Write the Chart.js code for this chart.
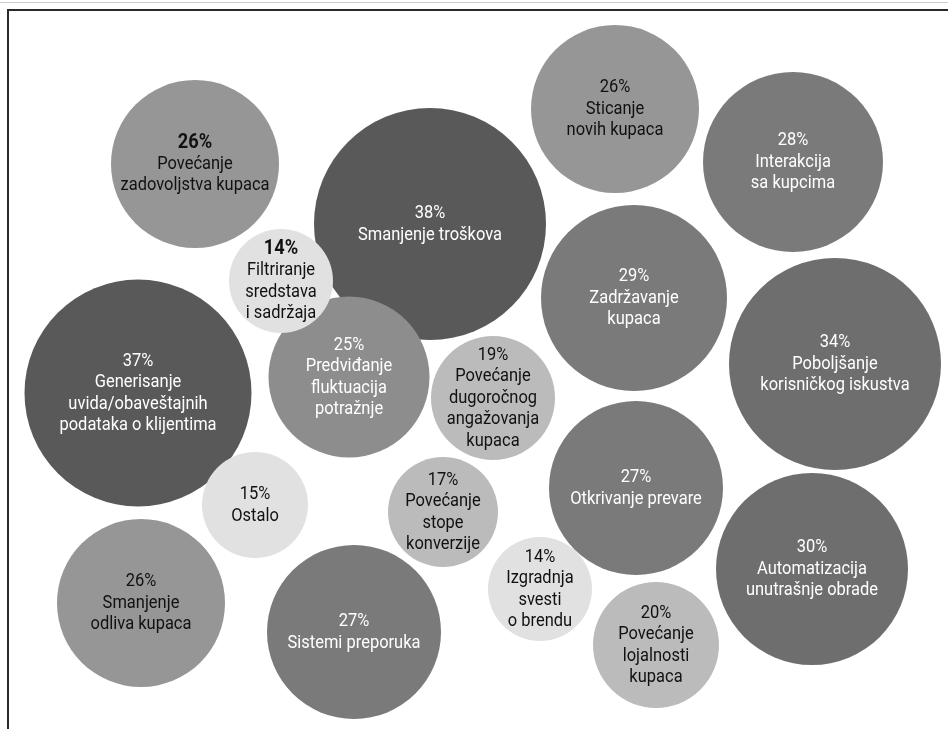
<!DOCTYPE html>
<html>
<head>
<meta charset="utf-8">
<script src="https://cdn.jsdelivr.net/npm/chart.js@4"></script>
<style>
  html, body { margin: 0; padding: 0; background: #fff; }
  #wrap { position: relative; width: 948px; height: 729px; }
</style>
</head>
<body>
<div id="wrap"><canvas id="bubbles" width="948" height="729"></canvas></div>
<script>
// podaci (redosled = redosled crtanja)
const categories = [
  'Povećanje\nzadovoljstva kupaca',
  'Smanjenje troškova',
  'Sticanje\nnovih kupaca',
  'Interakcija\nsa kupcima',
  'Zadržavanje\nkupaca',
  'Poboljšanje\nkorisničkog iskustva',
  'Generisanje\nuvida/obaveštajnih\npodataka o klijentima',
  'Predviđanje\nfluktuacija\npotražnje',
  'Povećanje\ndugoročnog\nangažovanja\nkupaca',
  'Povećanje\nstope\nkonverzije',
  'Ostalo',
  'Otkrivanje prevare',
  'Automatizacija\nunutrašnje obrade',
  'Izgradnja\nsvesti\no brendu',
  'Povećanje\nlojalnosti\nkupaca',
  'Smanjenje\nodliva kupaca',
  'Sistemi preporuka',
  'Filtriranje\nsredstava\ni sadržaja'
];
const percents = [26, 38, 26, 28, 29, 34, 37, 25, 19, 17, 15, 27, 30, 14, 20, 26, 27, 14];

// raspored krugova (jedinice skale)
const layoutX = [195, 430, 615, 793, 634, 835, 138, 349, 493, 443, 255, 636, 812, 540, 656, 141, 354, 281];
const layoutY = [164, 224, 109, 162, 298, 364, 393, 377, 398, 512, 505, 488, 569, 589, 645, 603, 632, 281];

// stil
const boldPercent = [true, false, false, false, false, false, false, false, false, false, false, false, false, false, false, false, false, true];
const whiteText = [false, true, false, true, true, true, true, true, false, false, false, true, true, false, false, false, true, false];
const FONT = 'Roboto, "DejaVu Sans", sans-serif';

function shade(v, i) {
  if (v >= 35) return '#595959';
  if (v >= 30) return '#6e6e6e';
  if (v >= 27) return '#7a7a7a';
  if (v >= 25) return whiteText[i] ? '#8d8d8d' : '#969696';
  if (v >= 17) return '#bbbbbb';
  return '#e1e1e1';
}

// poluprečnik iz vrednosti (po delovima linearno)
const rStops = [[14, 52], [17, 55], [19, 62], [20, 63], [26, 84], [30, 96], [38, 116]];
function radiusFor(v) {
  for (let k = 1; k < rStops.length; k++) {
    const [v0, r0] = rStops[k - 1], [v1, r1] = rStops[k];
    if (v <= v1) return r0 + (v - v0) * (r1 - r0) / (v1 - v0);
  }
  return rStops[rStops.length - 1][1];
}

const points = percents.map((v, i) => ({ x: layoutX[i], y: layoutY[i], v: v }));

const framePlugin = {
  id: 'frame',
  beforeDraw(chart) {
    const c = chart.ctx;
    c.save();
    c.strokeStyle = '#cfcfcf';
    c.lineWidth = 1;
    c.beginPath(); c.moveTo(0, 2.5); c.lineTo(948, 2.5); c.stroke();
    c.strokeStyle = '#2a2a2a';
    c.lineWidth = 2;
    c.beginPath();
    c.moveTo(948, 10); c.lineTo(8, 10); c.lineTo(8, 729);
    c.stroke();
    c.restore();
  }
};

// uzak font: sabijamo tekst vodoravno
const labelPlugin = {
  id: 'bubbleLabels',
  afterDatasetsDraw(chart) {
    const c = chart.ctx;
    const meta = chart.getDatasetMeta(0);
    const lh = 21.5;
    c.save();
    c.font = '19px ' + FONT;
    const squeeze = 149 / c.measureText('zadovoljstva kupaca').width;
    c.textAlign = 'center';
    c.textBaseline = 'middle';
    meta.data.forEach((el, i) => {
      const lines = [percents[i] + '%'].concat(categories[i].split('\n'));
      const top = el.y - (lines.length - 1) * lh / 2;
      c.fillStyle = whiteText[i] ? '#ffffff' : '#111111';
      lines.forEach((t, j) => {
        const bold = j === 0 && boldPercent[i];
        c.font = (bold ? 'bold 21px ' : '19px ') + FONT;
        c.setTransform(squeeze, 0, 0, 1, el.x, top + j * lh);
        c.fillText(t, 0, 0);
      });
    });
    c.restore();
  }
};

new Chart(document.getElementById('bubbles'), {
  type: 'bubble',
  data: {
    datasets: [{
      data: points,
      radius: ctx => radiusFor(percents[ctx.dataIndex]),
      hoverRadius: 0,
      backgroundColor: ctx => shade(percents[ctx.dataIndex], ctx.dataIndex),
      borderWidth: 0,
      clip: false
    }]
  },
  options: {
    responsive: false,
    animation: false,
    devicePixelRatio: 1,
    layout: { padding: 0, autoPadding: false },
    scales: {
      x: { type: 'linear', min: 0, max: 948, display: false },
      y: { type: 'linear', min: 0, max: 729, reverse: true, display: false }
    },
    plugins: { legend: { display: false }, tooltip: { enabled: false } },
    events: []
  },
  plugins: [framePlugin, labelPlugin]
});
</script>
</body>
</html>
